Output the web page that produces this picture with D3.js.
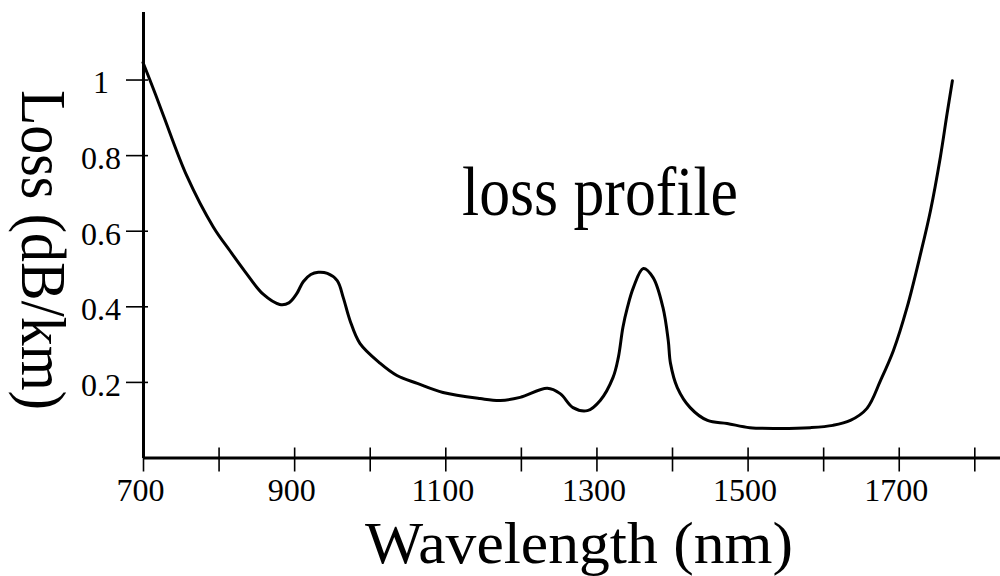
<!DOCTYPE html>
<html>
<head>
<meta charset="utf-8">
<script src="https://cdn.jsdelivr.net/npm/d3@7"></script>
<style>
  html, body { margin: 0; padding: 0; background: #fff; }
  svg { display: block; }
  text { font-family: "Liberation Serif", "Times New Roman", serif; fill: #000; }
</style>
</head>
<body>
<svg id="chart" width="1000" height="576"></svg>
<script>
// Fibre attenuation versus wavelength
const wavelengths = [700, 713, 727, 758, 793, 815, 835, 859, 881, 893, 903, 912, 922, 932, 944, 957, 965,
  974, 987, 1014, 1036, 1063, 1097, 1146, 1173, 1199, 1235, 1252, 1269, 1288, 1305, 1322, 1329,
  1335, 1341, 1349, 1362, 1375, 1388, 1395, 1398, 1407, 1424, 1447, 1473, 1503, 1543, 1583, 1613,
  1636, 1658, 1676, 1693, 1711, 1729, 1742, 1755, 1764, 1771];
const loss = [1.045, 0.979, 0.905, 0.745, 0.61, 0.547, 0.492, 0.432, 0.405, 0.409, 0.432, 0.465, 0.484, 0.490, 0.487, 0.468, 0.423,
  0.362, 0.302, 0.249, 0.217, 0.196, 0.172, 0.156, 0.151, 0.159, 0.183, 0.169, 0.132, 0.124, 0.151, 0.212, 0.265,
  0.344, 0.397, 0.450, 0.500, 0.476, 0.397, 0.310, 0.249, 0.185, 0.132, 0.098, 0.090, 0.079, 0.077, 0.079, 0.085,
  0.098, 0.130, 0.204, 0.283, 0.397, 0.540, 0.653, 0.794, 0.910, 0.997];

const xTicks = [700, 800, 900, 1000, 1100, 1200, 1300, 1400, 1500, 1600, 1700, 1800];
const xTickLabels = [700, 900, 1100, 1300, 1500, 1700];
const yTicks = [0.2, 0.4, 0.6, 0.8, 1];

const xTitle = "Wavelength (nm)";
const yTitle = "Loss (dB/km)";
const curveLabel = "loss profile";

const svg = d3.select("#chart");

const x = d3.scaleLinear().domain([700, 1834]).range([143, 1000]);
const y = d3.scaleLinear().domain([0, 1.18]).range([457.5, 11.5]);

// x axis
const xAxis = d3.axisBottom(x)
  .tickValues(xTicks)
  .tickSize(14)
  .tickSizeOuter(0)
  .tickPadding(0)
  .tickFormat(d => xTickLabels.includes(d) ? String(d) : "");

const gx = svg.append("g")
  .attr("transform", `translate(0,${y(0)})`)
  .call(xAxis);
gx.select(".domain").attr("stroke", "#000").attr("stroke-width", 3);
gx.selectAll(".tick line")
  .attr("stroke", "#000")
  .attr("stroke-width", 1.6)
  .attr("y1", d => d === 700 ? 0 : -10);
gx.selectAll(".tick text")
  .attr("y", 43)
  .attr("dy", null)
  .attr("dx", -3)
  .style("font-family", "'Liberation Serif', serif")
  .style("font-size", "32px");

// y axis
const yAxis = d3.axisLeft(y)
  .tickValues(yTicks)
  .tickSize(17)
  .tickSizeOuter(0)
  .tickFormat(d3.format(""));

const gy = svg.append("g")
  .attr("transform", `translate(${x(700)},0)`)
  .call(yAxis);
gy.select(".domain").attr("stroke", "#000").attr("stroke-width", 3);
gy.selectAll(".tick line")
  .attr("stroke", "#000")
  .attr("stroke-width", 1.6)
  .attr("x2", 5)
  .attr("x1", -17);
gy.selectAll(".tick text")
  .attr("x", -42)
  .attr("dy", "0.42em")
  .attr("text-anchor", "middle")
  .style("font-family", "'Liberation Serif', serif")
  .style("font-size", "32px");

// loss curve
const points = wavelengths.map((w, i) => [w, loss[i]]);
const line = d3.line()
  .x(d => x(d[0]))
  .y(d => y(d[1]))
  .curve(d3.curveCatmullRom.alpha(0.5));

svg.append("path")
  .datum(points)
  .attr("d", line)
  .attr("fill", "none")
  .attr("stroke", "#000")
  .attr("stroke-width", 3)
  .attr("stroke-linejoin", "round")
  .attr("stroke-linecap", "round");

// titles
svg.append("text")
  .attr("x", 365)
  .attr("y", 563)
  .attr("textLength", 428)
  .attr("lengthAdjust", "spacingAndGlyphs")
  .style("font-family", "'Liberation Serif', serif")
  .style("font-size", "60px")
  .text(xTitle);

svg.append("text")
  .attr("transform", "translate(22,90) rotate(90)")
  .attr("textLength", 320)
  .attr("lengthAdjust", "spacingAndGlyphs")
  .style("font-family", "'Liberation Serif', serif")
  .style("font-size", "63px")
  .text(yTitle);

svg.append("text")
  .attr("x", 462)
  .attr("y", 215)
  .attr("textLength", 276)
  .attr("lengthAdjust", "spacingAndGlyphs")
  .style("font-family", "'Liberation Serif', serif")
  .style("font-size", "69px")
  .text(curveLabel);
</script>
</body>
</html>
